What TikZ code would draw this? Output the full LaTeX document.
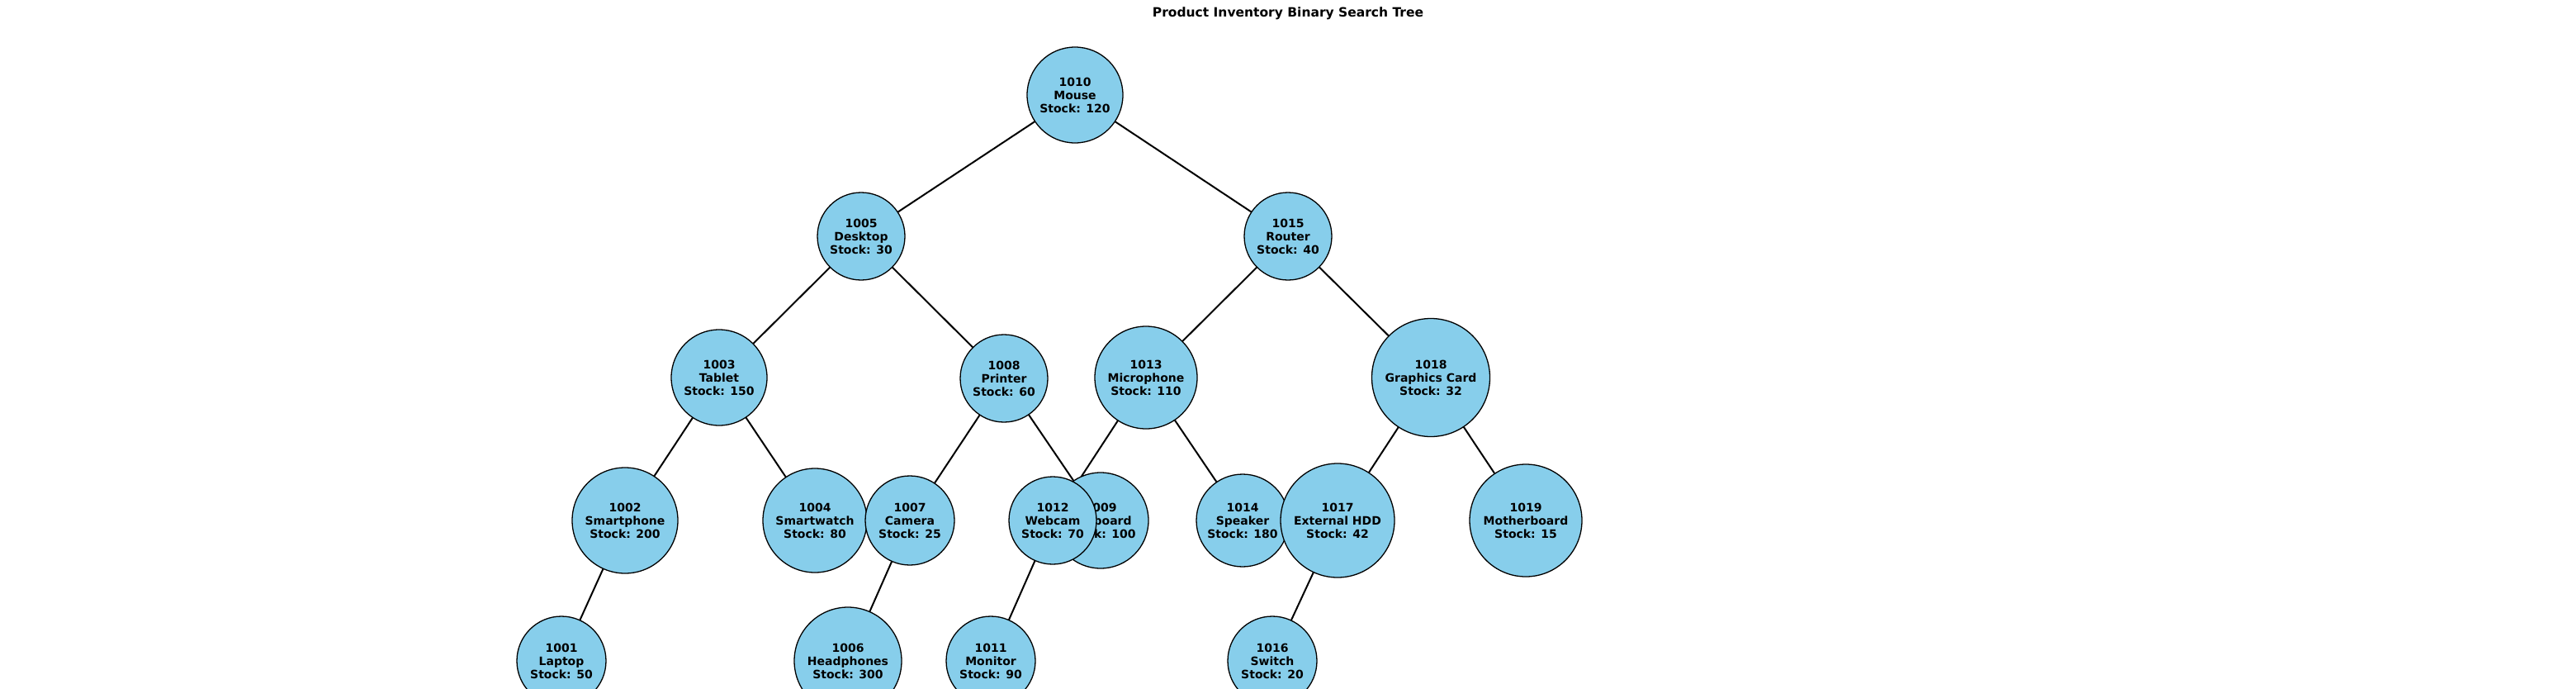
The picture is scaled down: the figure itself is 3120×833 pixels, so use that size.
\documentclass[tikz,border=0pt]{standalone}
\usepackage{fontspec}
\setmainfont{DejaVu Sans}
\begin{document}
\begin{tikzpicture}[x=1pt,y=-1pt,
  bnode/.style={circle,draw=black,line width=1.3pt,fill=skyblue,inner sep=0pt,
    align=center,font=\bfseries\fontsize{14}{16}\selectfont},
  edge/.style={line width=2pt,black}]
\definecolor{skyblue}{HTML}{87CEEB}
\useasboundingbox (0,0) rectangle (3120,833);
\clip (0,0) rectangle (3120,833);
\node[font=\bfseries\fontsize{15.5}{18}\selectfont] (title) at (1560,16) {Product Inventory Binary Search Tree};
% coordinates
\coordinate (p1010) at (1302,115);
\coordinate (p1005) at (1043,286);
\coordinate (p1015) at (1560,286);
\coordinate (p1003) at (871,457);
\coordinate (p1008) at (1216,458);
\coordinate (p1013) at (1388,457);
\coordinate (p1018) at (1733,457);
\coordinate (p1002) at (757,630);
\coordinate (p1004) at (987,630);
\coordinate (p1007) at (1102,630);
\coordinate (p1009) at (1333,630);
\coordinate (p1012) at (1275,630);
\coordinate (p1014) at (1505,630);
\coordinate (p1017) at (1620,630);
\coordinate (p1019) at (1848,630);
\coordinate (p1001) at (680,800);
\coordinate (p1006) at (1027,800);
\coordinate (p1011) at (1200,800);
\coordinate (p1016) at (1541,800);
% edges (under nodes)
\foreach \a/\b in {1010/1005,1010/1015,1005/1003,1005/1008,1015/1013,1015/1018,
  1003/1002,1003/1004,1008/1007,1008/1009,1013/1012,1013/1014,1018/1017,1018/1019,
  1002/1001,1007/1006,1012/1011,1017/1016}
  \draw[edge] (p\a) -- (p\b);
% nodes
\node[bnode,minimum size=116pt] (n1010) at (p1010) {1010\\Mouse\\Stock: 120};
\node[bnode,minimum size=106pt] (n1005) at (p1005) {1005\\Desktop\\Stock: 30};
\node[bnode,minimum size=106pt] (n1015) at (p1015) {1015\\Router\\Stock: 40};
\node[bnode,minimum size=116pt] (n1003) at (p1003) {1003\\Tablet\\Stock: 150};
\node[bnode,minimum size=106pt] (n1008) at (p1008) {1008\\Printer\\Stock: 60};
\node[bnode,minimum size=124pt] (n1013) at (p1013) {1013\\Microphone\\Stock: 110};
\node[bnode,minimum size=143pt] (n1018) at (p1018) {1018\\Graphics Card\\Stock: 32};
\node[bnode,minimum size=128pt] (n1002) at (p1002) {1002\\Smartphone\\Stock: 200};
\node[bnode,minimum size=126pt] (n1004) at (p1004) {1004\\Smartwatch\\Stock: 80};
\node[bnode,minimum size=108pt] (n1007) at (p1007) {1007\\Camera\\Stock: 25};
\node[bnode,minimum size=116pt] (n1009) at (p1009) {1009\\Keyboard\\Stock: 100};
\node[bnode,minimum size=106pt] (n1012) at (p1012) {1012\\Webcam\\Stock: 70};
\node[bnode,minimum size=112pt] (n1014) at (p1014) {1014\\Speaker\\Stock: 180};
\node[bnode,minimum size=138pt] (n1017) at (p1017) {1017\\External HDD\\Stock: 42};
\node[bnode,minimum size=136pt] (n1019) at (p1019) {1019\\Motherboard\\Stock: 15};
\node[bnode,minimum size=108pt] (n1001) at (p1001) {1001\\Laptop\\Stock: 50};
\node[bnode,minimum size=130pt] (n1006) at (p1006) {1006\\Headphones\\Stock: 300};
\node[bnode,minimum size=108pt] (n1011) at (p1011) {1011\\Monitor\\Stock: 90};
\node[bnode,minimum size=108pt] (n1016) at (p1016) {1016\\Switch\\Stock: 20};
\end{tikzpicture}
\end{document}
